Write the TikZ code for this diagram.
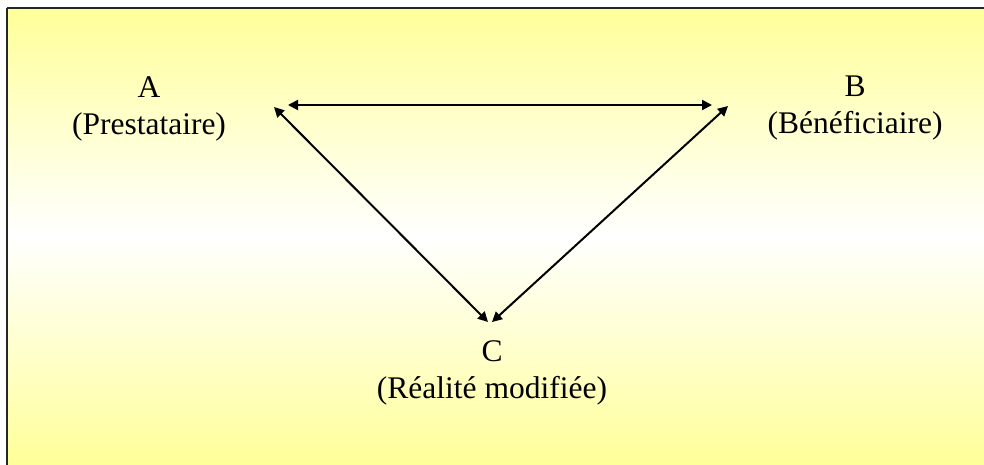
\documentclass[tikz,border=0pt]{standalone}
\usepackage{fontspec}
\setmainfont{Liberation Serif}
\usetikzlibrary{arrows.meta}
\definecolor{paleyellow}{HTML}{FFFF99}
\tikzset{
  lbl/.style={align=center, font=\fontsize{31.5}{37}\selectfont, inner sep=0pt, anchor=base},
  link/.style={line width=2pt, {Triangle[length=10pt,width=10pt]}-{Triangle[length=10pt,width=10pt]}}
}
\begin{document}
\begin{tikzpicture}[x=1pt,y=-1pt]
\useasboundingbox (0,0) rectangle (984,464);
\fill[white] (0,0) rectangle (984,464);
\clip (0,0) rectangle (984,464);
\shade[top color=paleyellow, bottom color=paleyellow, middle color=white] (8,8) rectangle (984,464);
\draw[line width=2pt, draw=black!85] (7,8) -- (990,8);
\draw[line width=2pt, draw=black!85] (7,8) -- (7,470);
\node[lbl] (A) at (149,134) {A\\(Prestataire)};
\node[lbl] (B) at (855,133) {B\\(Bénéficiaire)};
\node[lbl] (C) at (492,398) {C\\(Réalité modifiée)};
\coordinate (ab1) at (288,105);
\coordinate (ab2) at (712,105);
\coordinate (ac1) at (274,107);
\coordinate (ac2) at (488,322);
\coordinate (bc1) at (728,106);
\coordinate (bc2) at (492,322);
\draw[link] (ab1) -- (ab2);
\draw[link] (ac1) -- (ac2);
\draw[link] (bc1) -- (bc2);
\end{tikzpicture}
\end{document}
